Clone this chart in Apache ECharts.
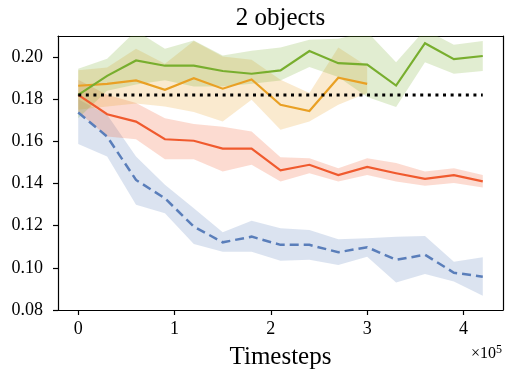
<!DOCTYPE html>
<html>
<head>
<meta charset="utf-8">
<script src="https://cdn.jsdelivr.net/npm/echarts@6/dist/echarts.min.js"></script>
<style>html,body{margin:0;padding:0;background:#fff}#c{width:505px;height:370px}</style>
</head>
<body>
<div id="c"></div>
<script>
// x in units of 1e5 timesteps
const steps = [0, 0.3, 0.6, 0.9, 1.2, 1.5, 1.8, 2.1, 2.4, 2.7, 3.0, 3.3, 3.6, 3.9, 4.2];
const stepsShort = [0, 0.3, 0.6, 0.9, 1.2, 1.5, 1.8, 2.1, 2.4, 2.7, 3.0];
const xTicks = [0, 1, 2, 3, 4];
const yTicks = [0.08, 0.10, 0.12, 0.14, 0.16, 0.18, 0.20];
const baseline = 0.182;

const greenMean  = [0.1821,0.1911,0.1984,0.1959,0.1959,0.1934,0.1921,0.1937,0.2029,0.1971,0.1964,0.1865,0.2066,0.1990,0.2005];
const greenUpper = [0.1945,0.1992,0.2125,0.2040,0.2079,0.2008,0.2030,0.2045,0.2082,0.2087,0.2120,0.1976,0.2130,0.2059,0.2076];
const greenLower = [0.1710,0.1840,0.1870,0.1890,0.1860,0.1860,0.1873,0.1889,0.1953,0.1905,0.1810,0.1763,0.1976,0.1921,0.1934];

const orangeMean  = [0.1864,0.1873,0.1889,0.1845,0.1900,0.1850,0.1894,0.1774,0.1744,0.1902,0.1873];
const orangeUpper = [0.1937,0.1950,0.2040,0.1968,0.2076,0.2003,0.1987,0.1892,0.1829,0.2046,0.1956];
const orangeLower = [0.1750,0.1766,0.1780,0.1766,0.1740,0.1694,0.1797,0.1655,0.1694,0.1774,0.1830];

const redMean  = [0.1821,0.1729,0.1694,0.1610,0.1603,0.1566,0.1566,0.1463,0.1489,0.1440,0.1479,0.1449,0.1422,0.1440,0.1410];
const redUpper = [0.1892,0.1821,0.1782,0.1710,0.1683,0.1670,0.1647,0.1525,0.1520,0.1473,0.1520,0.1497,0.1457,0.1473,0.1441];
const redLower = [0.1740,0.1623,0.1610,0.1515,0.1515,0.1457,0.1489,0.1410,0.1449,0.1410,0.1441,0.1410,0.1390,0.1402,0.1381];

const blueMean  = [0.1737,0.1623,0.1417,0.1330,0.1196,0.1121,0.1148,0.1109,0.1109,0.1074,0.1098,0.1038,0.1062,0.0977,0.0958];
const blueUpper = [0.1800,0.1726,0.1528,0.1394,0.1283,0.1169,0.1224,0.1188,0.1180,0.1136,0.1140,0.1148,0.1151,0.1029,0.1050];
const blueLower = [0.1588,0.1528,0.1299,0.1259,0.1113,0.1076,0.1076,0.1034,0.1038,0.1014,0.1053,0.0930,0.0971,0.0935,0.0868];

const C = {green:'#78ae2e', orange:'#e9a024', red:'#f05a2e', blue:'#5a7eba'};
const FONT = 'Liberation Serif';

function pairs(xs, ys){ return xs.map((x,i)=>[x, ys[i]]); }

// confidence band drawn as one polygon through the axis scales
function band(xs, lo, hi, color){
  const data = xs.map((x,i)=>[x, lo[i], hi[i]]);
  return {
    type:'custom', silent:true, z:1, data:data,
    encode:{x:0, y:[1,2]},
    renderItem:function(params, api){
      if (params.dataIndex !== 0) return null;
      const top = [], bot = [];
      for (let i = 0; i < data.length; i++){
        top.push(api.coord([data[i][0], data[i][2]]));
        bot.push(api.coord([data[i][0], data[i][1]]));
      }
      const pts = top.concat(bot.reverse());
      const cs = params.coordSys;
      return {
        type:'polygon', shape:{points:pts},
        style:{fill:color, opacity:0.22, stroke:null},
        clipPath:{type:'rect', shape:{x:cs.x, y:cs.y, width:cs.width, height:cs.height}}
      };
    }
  };
}
function line(xs, ys, color, type, width){
  return {type:'line', data:pairs(xs, ys), symbol:'none', silent:true, z:3,
    lineStyle:{color:color, width:width||2, type:type||'solid', cap:'butt', join:'miter'}};
}

const spine = {show:true, onZero:false, lineStyle:{color:'#000', width:1.2}};
const tickStyle = {show:true, inside:false, length:5, lineStyle:{color:'#000', width:1.2}};

const chart = echarts.init(document.getElementById('c'), null, {renderer:'canvas'});
chart.setOption({
  animation:false,
  backgroundColor:'#fff',
  grid:{left:58, right:2, top:36, bottom:60, containLabel:false, outerBoundsMode:'none', show:false},
  xAxis:[
    {type:'value', min:-0.21, max:4.41, position:'bottom', z:10,
     name:'Timesteps', nameLocation:'middle', nameGap:35,
     nameTextStyle:{fontFamily:FONT, fontSize:25, color:'#000'},
     axisLine:spine,
     axisTick:Object.assign({customValues:xTicks}, tickStyle),
     axisLabel:{fontFamily:FONT, fontSize:18, color:'#000', margin:10, customValues:xTicks,
       formatter:v=>String(Math.round(v))},
     splitLine:{show:false}},
    {type:'value', min:-0.21, max:4.41, position:'top', axisLine:spine,
     axisTick:{show:false}, axisLabel:{show:false}, splitLine:{show:false}}
  ],
  yAxis:[
    {type:'value', min:0.08, max:0.21, position:'left', z:10,
     axisLine:spine,
     axisTick:Object.assign({customValues:yTicks}, tickStyle),
     axisLabel:{fontFamily:FONT, fontSize:18, color:'#000', margin:15, customValues:yTicks,
       formatter:v=>v.toFixed(2)},
     splitLine:{show:false}},
    {type:'value', min:0.08, max:0.21, position:'right', axisLine:spine,
     axisTick:{show:false}, axisLabel:{show:false}, splitLine:{show:false}}
  ],
  graphic:[
    {type:'text', x:280.5, y:6, silent:true,
     style:{text:'2 objects', fontFamily:FONT, fontSize:25, fill:'#000', align:'center', verticalAlign:'top'}},
    {type:'text', right:3, top:344, silent:true,
     style:{text:'×10{s|5}', fontFamily:FONT, fontSize:16, fill:'#000',
       rich:{s:{fontFamily:FONT, fontSize:12, verticalAlign:'top', padding:[0,0,8,0]}}}}
  ],
  series:[
    band(steps, blueLower, blueUpper, C.blue),
    band(steps, redLower, redUpper, C.red),
    band(stepsShort, orangeLower, orangeUpper, C.orange),
    band(steps, greenLower, greenUpper, C.green),
    line(steps, blueMean, C.blue, [9,5], 2.5),
    line(steps, redMean, C.red, 'solid', 2.2),
    line(stepsShort, orangeMean, C.orange, 'solid', 2.2),
    line(steps, greenMean, C.green, 'solid', 2.2),
    {type:'line', data:pairs(steps, steps.map(()=>baseline)), symbol:'none', silent:true, z:4,
     lineStyle:{color:'#000', width:3, type:[3,4.6], cap:'butt'}}
  ]
});
</script>
</body>
</html>
